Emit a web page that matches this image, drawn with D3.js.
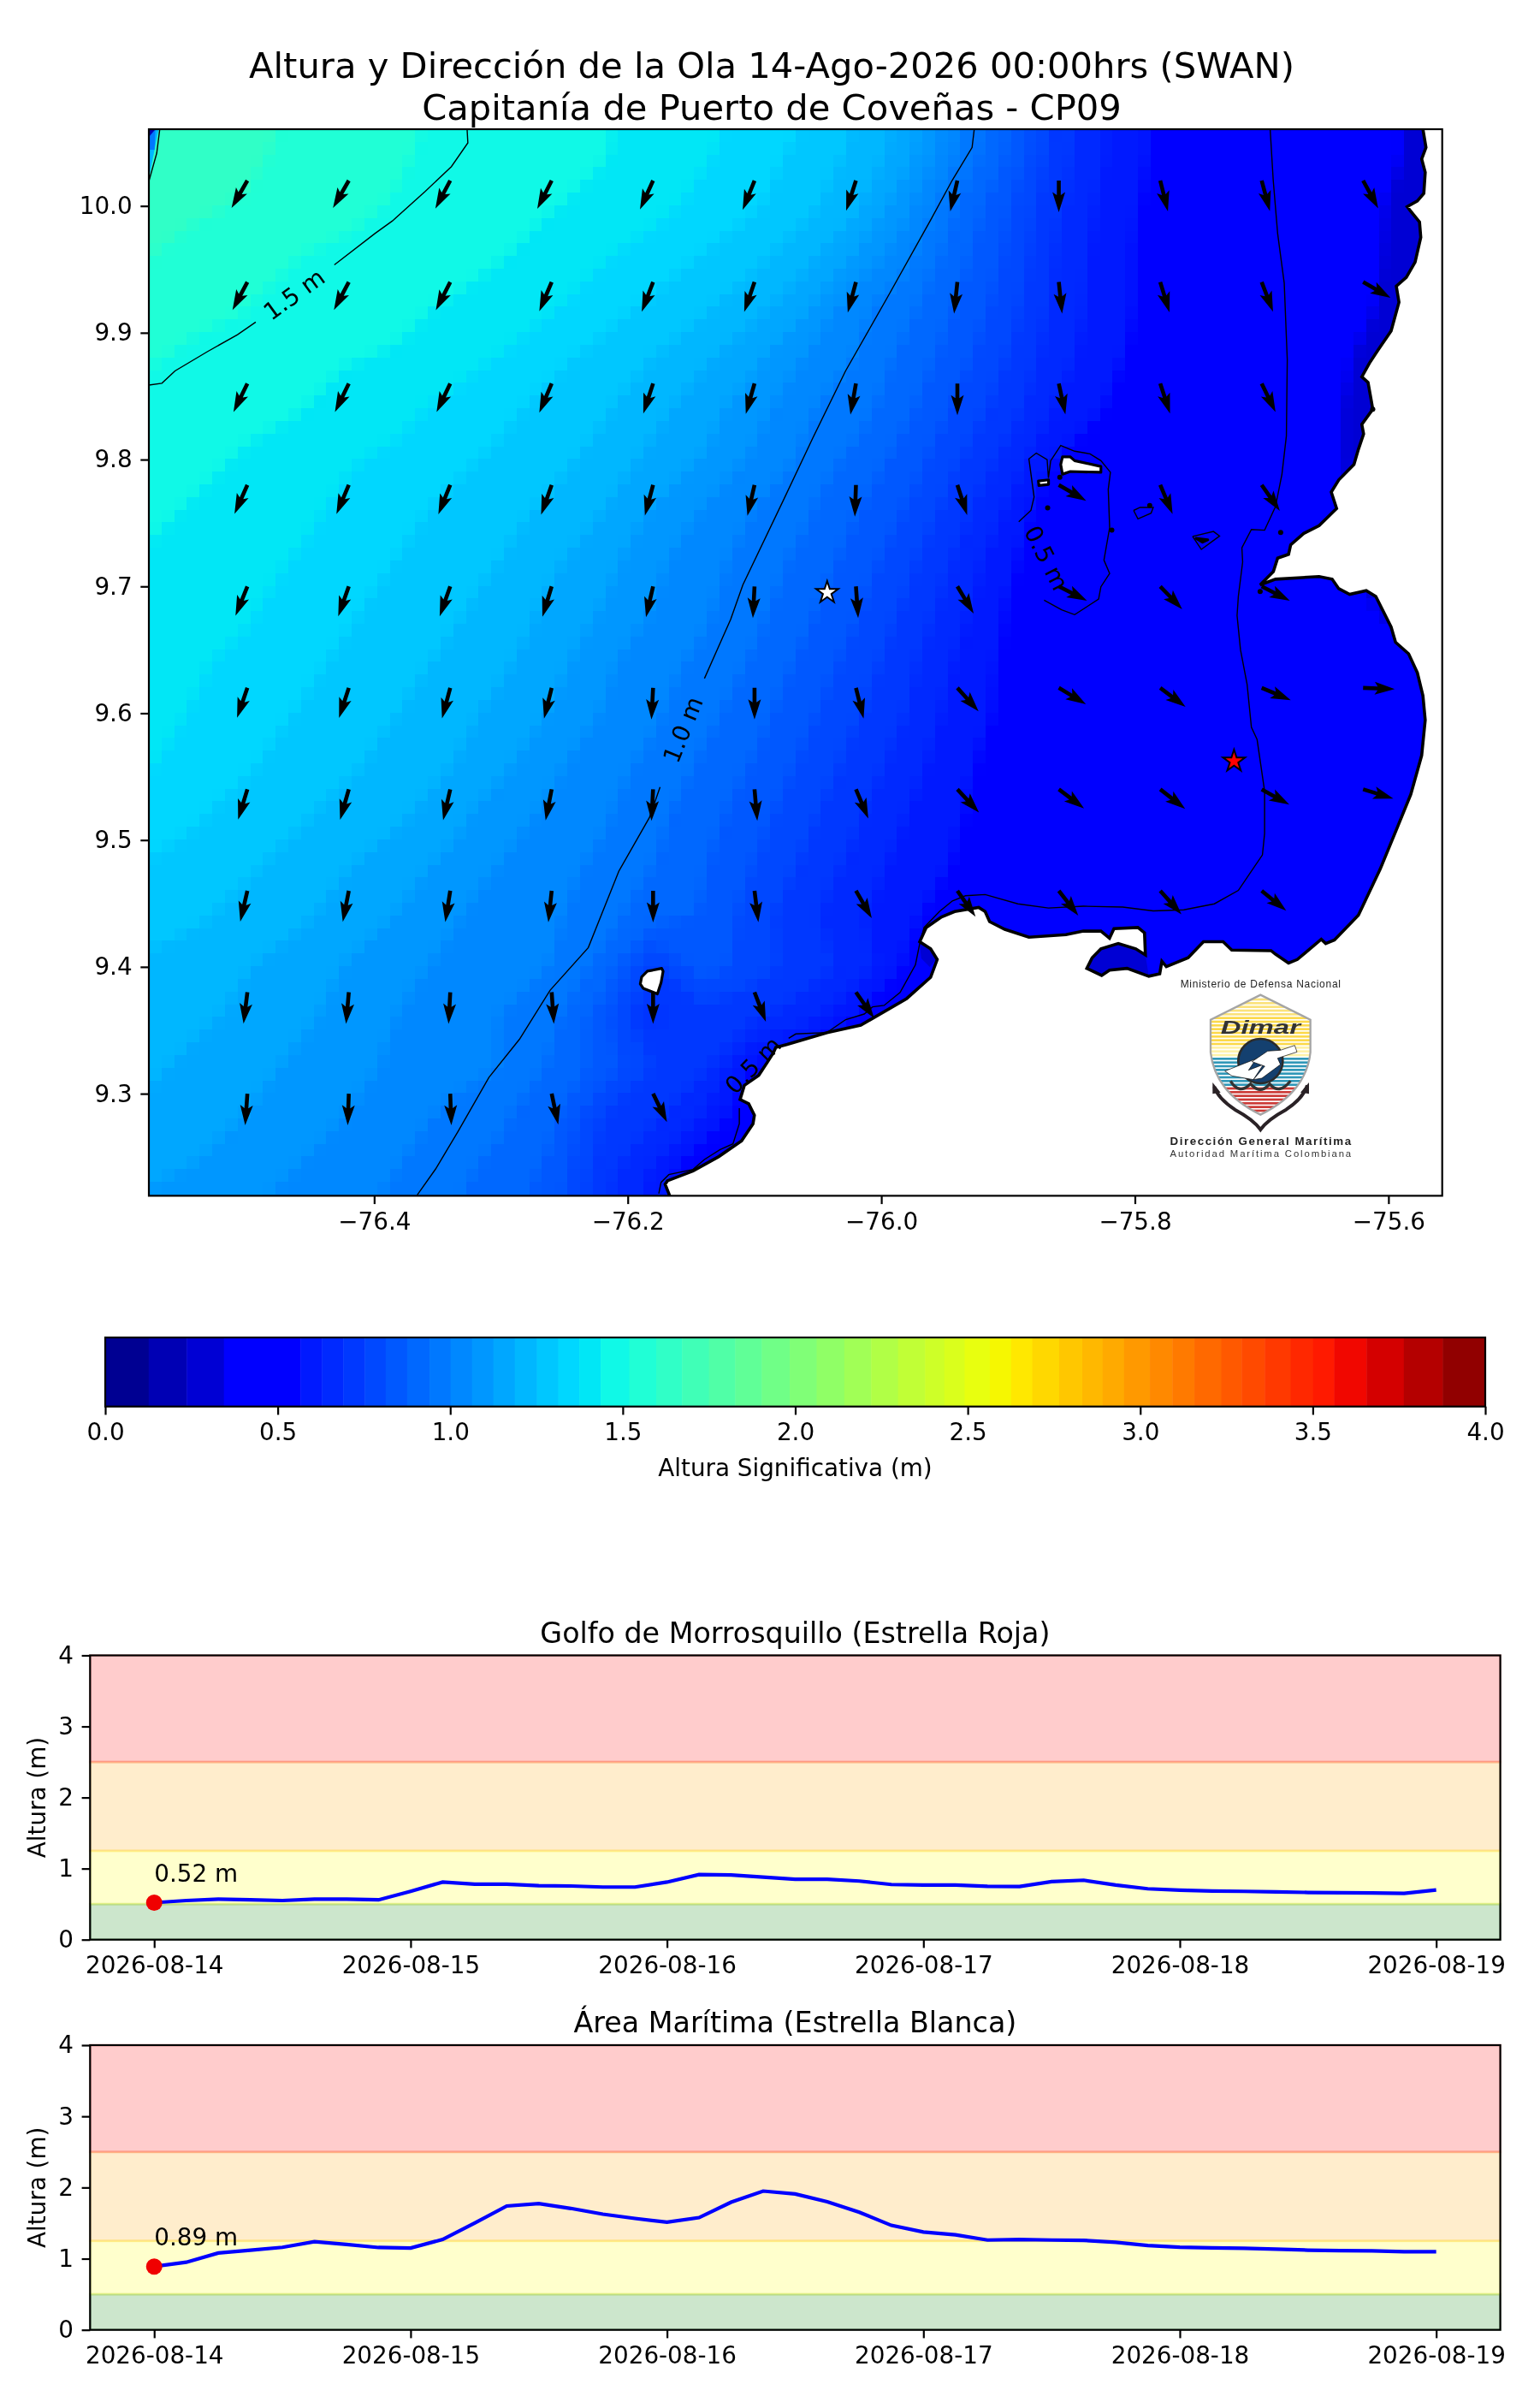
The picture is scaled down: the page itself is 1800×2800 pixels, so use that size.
<!DOCTYPE html>
<html>
<head>
<meta charset="utf-8">
<script src="https://cdn.jsdelivr.net/npm/d3@7"></script>
<style>
  body { margin: 0; background: #fff; }
  #chart { position: relative; width: 1800px; height: 2800px; }
  #field { position: absolute; left: 174px; top: 151px; }
  svg { position: absolute; left: 0; top: 0; }
  text { font-family: "DejaVu Sans", sans-serif; fill: #000; }
  .tick text { font-size: 27.8px; }
</style>
</head>
<body>
<div id="chart"><canvas id="field"></canvas></div>
<script>
const titleLines = ['Altura y Dirección de la Ola 14-Ago-2026 00:00hrs (SWAN)', 'Capitanía de Puerto de Coveñas - CP09'];
const lonTicks = [-76.4, -76.2, -76.0, -75.8, -75.6];
const latTicks = [10.0, 9.9, 9.8, 9.7, 9.6, 9.5, 9.4, 9.3];

const fieldLons = [-76.58, -76.54, -76.50, -76.46, -76.42, -76.38, -76.34, -76.30, -76.26, -76.22, -76.18, -76.14, -76.10, -76.06, -76.02, -75.98, -75.94, -75.90, -75.86, -75.82, -75.78, -75.74, -75.70, -75.66, -75.62, -75.58, -75.54];
const fieldLats = [10.08, 10.04, 10.00, 9.96, 9.92, 9.88, 9.84, 9.80, 9.76, 9.72, 9.68, 9.64, 9.60, 9.56, 9.52, 9.48, 9.44, 9.40, 9.36, 9.32, 9.28, 9.24, 9.20];
const fieldHeights = [
  [1.64,1.64,1.62,1.59,1.56,1.54,1.5,1.48,1.46,1.44,1.42,1.39,1.36,1.32,1.25,1.17,1.02,.88,.73,.62,.55,.52,.48,.45,.4,.33,.3],
  [1.63,1.63,1.61,1.58,1.55,1.53,1.49,1.47,1.45,1.44,1.41,1.38,1.35,1.29,1.24,1.15,1.0,.87,.72,.62,.55,.52,.48,.45,.4,.33,.3],
  [1.62,1.61,1.59,1.56,1.54,1.51,1.48,1.46,1.44,1.42,1.39,1.36,1.32,1.27,1.2,1.08,.94,.82,.70,.6,.54,.51,.48,.44,.38,.3,.3],
  [1.6,1.57,1.54,1.52,1.5,1.48,1.46,1.44,1.41,1.38,1.35,1.31,1.27,1.21,1.12,1.02,.9,.8,.68,.59,.54,.51,.47,.43,.37,.3,.3],
  [1.56,1.54,1.52,1.49,1.47,1.45,1.43,1.41,1.38,1.34,1.3,1.26,1.21,1.14,1.02,.96,.87,.78,.67,.59,.54,.51,.47,.42,.36,.3,.3],
  [1.53,1.5,1.48,1.46,1.44,1.43,1.4,1.37,1.33,1.29,1.25,1.2,1.14,1.06,1.0,.92,.84,.75,.65,.58,.53,.5,.46,.4,.33,.3,.3],
  [1.48,1.47,1.45,1.44,1.41,1.39,1.36,1.33,1.29,1.26,1.21,1.15,1.09,1.01,.97,.89,.8,.72,.62,.56,.52,.5,.45,.38,.32,.3,.3],
  [1.46,1.45,1.43,1.41,1.38,1.36,1.33,1.3,1.27,1.23,1.17,1.12,1.05,.99,.92,.85,.76,.67,.56,.52,.5,.49,.44,.38,.32,.3,.3],
  [1.45,1.43,1.41,1.39,1.36,1.33,1.3,1.27,1.24,1.19,1.12,1.06,1.0,.95,.88,.81,.72,.62,.5,.46,.47,.48,.44,.38,.33,.3,.3],
  [1.43,1.41,1.39,1.37,1.34,1.31,1.28,1.25,1.2,1.15,1.08,1.02,.98,.92,.85,.77,.68,.58,.5,.44,.46,.48,.45,.4,.34,.32,.32],
  [1.42,1.4,1.38,1.35,1.32,1.29,1.26,1.23,1.17,1.12,1.06,1.01,.96,.89,.82,.74,.65,.56,.48,.45,.47,.48,.46,.41,.35,.33,.33],
  [1.41,1.38,1.36,1.33,1.3,1.27,1.24,1.2,1.15,1.08,1.02,.99,.93,.86,.79,.71,.62,.55,.5,.48,.49,.49,.47,.43,.37,.35,.35],
  [1.39,1.37,1.34,1.31,1.28,1.25,1.21,1.17,1.12,1.06,1.01,.96,.9,.83,.76,.69,.6,.55,.51,.5,.5,.5,.49,.46,.42,.38,.38],
  [1.38,1.35,1.32,1.29,1.26,1.23,1.19,1.14,1.08,1.02,.99,.93,.87,.8,.73,.66,.58,.54,.52,.51,.51,.51,.5,.48,.46,.42,.42],
  [1.34,1.32,1.29,1.26,1.23,1.2,1.15,1.09,1.05,1.01,.96,.9,.84,.77,.7,.63,.57,.54,.53,.52,.52,.52,.51,.5,.49,.47,.47],
  [1.31,1.29,1.26,1.23,1.19,1.15,1.11,1.06,1.02,.99,.94,.88,.81,.74,.67,.6,.56,.54,.53,.52,.52,.51,.5,.5,.49,.48,.48],
  [1.28,1.26,1.23,1.2,1.16,1.12,1.07,1.04,1.01,.97,.9,.87,.78,.71,.64,.58,.53,.5,.52,.52,.52,.51,.5,.5,.49,.48,.48],
  [1.24,1.22,1.19,1.16,1.12,1.08,1.05,1.02,1.0,.92,.75,.85,.78,.72,.67,.56,.48,.45,.5,.5,.5,.48,.46,.46,.46,.46,.46],
  [1.22,1.2,1.17,1.14,1.1,1.06,1.03,1.0,.96,.84,.68,.72,.7,.66,.56,.48,.45,.45,.45,.45,.45,.45,.45,.45,.45,.45,.45],
  [1.2,1.17,1.15,1.11,1.08,1.05,1.02,1.0,.93,.85,.75,.7,.55,.5,.45,.45,.45,.45,.45,.45,.45,.45,.45,.45,.45,.45,.45],
  [1.17,1.15,1.12,1.09,1.06,1.02,.99,.95,.89,.75,.7,.62,.5,.45,.45,.45,.45,.45,.45,.45,.45,.45,.45,.45,.45,.45,.45],
  [1.14,1.12,1.1,1.06,1.03,1.0,.96,.92,.86,.72,.62,.5,.45,.45,.45,.45,.45,.45,.45,.45,.45,.45,.45,.45,.45,.45,.45],
  [1.1,1.08,1.06,1.03,1.01,.98,.94,.9,.84,.7,.6,.48,.45,.45,.45,.45,.45,.45,.45,.45,.45,.45,.45,.45,.45,.45,.45]
];

// colour band edges of the bar (m)
const bandEdges = [0, .126, .236, .344, .566, .628, .690, .752, .813, .875, .940, 1.001, 1.063, 1.125, 1.187, 1.251, 1.313, 1.374, 1.436, 1.519, 1.597, 1.672, 1.750, 1.826, 1.903, 1.984, 2.062, 2.142, 2.220, 2.298, 2.376, 2.432, 2.491, 2.564, 2.626, 2.687, 2.765, 2.832, 2.891, 2.953, 3.028, 3.093, 3.157, 3.235, 3.294, 3.361, 3.436, 3.501, 3.562, 3.656, 3.764, 3.877, 4];
const barTicks = [0, .5, 1, 1.5, 2, 2.5, 3, 3.5, 4];

// wave direction arrows: degrees away from south, positive towards east
const arrowLons = [-76.50, -76.42, -76.34, -76.26, -76.18, -76.10, -76.02, -75.94, -75.86, -75.78, -75.70, -75.62];
const arrowLats = [10.02, 9.94, 9.86, 9.78, 9.70, 9.62, 9.54, 9.46, 9.38, 9.30];
const arrowAngles = [
  [-30, -30, -28, -27, -24.5, -22, -18, -13, 0, 14, 15, 28.5],
  [-28, -28, -27, -23, -21, -19, -15, -6, 6, 17, 21, 60],
  [-26, -26, -25.5, -23, -18, -16, -10, 0, 12, 18, 26, null],
  [-24, -23, -22, -19.5, -15, -13, -2, 18, 60, 23, 35, null],
  [-22, -19.5, -19.5, -17, -13, -3, 4, 31, 63, 44, 63, null],
  [-19, -18, -15, -14, -3, 0, 14, 42, 59, 53, 67, 88],
  [-17, -16, -13, -11, -3, 5, 23, 43, 53, 52, 61, 73],
  [-13, -11, -9, -6, 0, 7, 30, 35, 38, 42, 51, null],
  [-7, -5, -3, 4, 0, 21, 35, null, null, null, null, null],
  [-4, -2, 2, 12, 26, null, null, null, null, null, null, null]
];

const contour15 = [
  [[-76.5777, 9.8587], [-76.5674, 9.8602], [-76.5571, 9.8699], [-76.5319, 9.8849], [-76.5078, 9.8985], [-76.4934, 9.9084]],
  [[-76.4314, 9.9536], [-76.3994, 9.9783], [-76.3856, 9.9882], [-76.3598, 10.0114], [-76.3391, 10.031], [-76.3261, 10.0497], [-76.3267, 10.0605]],
  [[-76.5691, 10.0605], [-76.5715, 10.0416], [-76.5774, 10.0205]]
];
const contour10 = [
  [[-75.9267, 10.0605], [-75.9284, 10.0461], [-75.9439, 10.0205], [-75.9611, 9.9889], [-75.9948, 9.9286], [-76.0282, 9.8699], [-76.0540, 9.8171], [-76.0775, 9.7674], [-76.1092, 9.7012], [-76.1188, 9.6741], [-76.1395, 9.6274]],
  [[-76.1745, 9.5418], [-76.1829, 9.5177], [-76.2070, 9.4755], [-76.2311, 9.4152], [-76.2613, 9.3815], [-76.2854, 9.3429], [-76.3095, 9.3128], [-76.3336, 9.2706], [-76.3516, 9.2405], [-76.3661, 9.22]]
];
const contour05 = [
  [[-75.6933, 10.0605], [-75.6909, 10.0205], [-75.6874, 9.9783], [-75.6822, 9.9391], [-75.6798, 9.8789], [-75.6805, 9.8187], [-75.6840, 9.7885], [-75.6891, 9.7629], [-75.6977, 9.7443], [-75.7081, 9.7449], [-75.7156, 9.7304], [-75.7150, 9.7192], [-75.7184, 9.6921], [-75.7194, 9.6771], [-75.7167, 9.6500], [-75.7115, 9.6229], [-75.7081, 9.5890], [-75.7036, 9.5792], [-75.6977, 9.5387], [-75.6977, 9.5051], [-75.6994, 9.4883], [-75.7184, 9.4603], [-75.7373, 9.4497], [-75.7614, 9.4450], [-75.7855, 9.4441], [-75.8096, 9.4472], [-75.8406, 9.4478], [-75.8682, 9.4464], [-75.8923, 9.4497], [-75.9181, 9.4570], [-75.9336, 9.4561], [-75.9439, 9.4520], [-75.9542, 9.4436], [-75.9663, 9.4310], [-75.9697, 9.4184], [-75.9731, 9.4016], [-75.9852, 9.3798], [-75.9978, 9.3696], [-76.0068, 9.3685], [-76.0135, 9.3628], [-76.0281, 9.3584], [-76.0428, 9.3482], [-76.0675, 9.3471], [-76.0731, 9.3437]],
  [[-76.1120, 9.2886], [-76.1120, 9.2763], [-76.1170, 9.2605], [-76.1271, 9.2560], [-76.1395, 9.2481], [-76.1485, 9.2403], [-76.1676, 9.2362], [-76.1737, 9.2301], [-76.1755, 9.2212]],
  [[-75.8716, 9.6891], [-75.8578, 9.6816], [-75.8475, 9.6777], [-75.8286, 9.6900], [-75.8268, 9.6997], [-75.8199, 9.7102], [-75.8244, 9.7207], [-75.8199, 9.7464], [-75.8210, 9.7765], [-75.8193, 9.7900], [-75.8268, 9.7991], [-75.8354, 9.8045], [-75.8475, 9.8066], [-75.8585, 9.8111], [-75.8664, 9.7991], [-75.8682, 9.7855], [-75.8692, 9.8000], [-75.8778, 9.8051], [-75.8836, 9.8006], [-75.8795, 9.7705], [-75.8820, 9.7599], [-75.8916, 9.7509]],
  [[-75.8010, 9.7599], [-75.7976, 9.7533], [-75.7872, 9.7578], [-75.7855, 9.7623], [-75.7959, 9.7623], [-75.8010, 9.7599]],
  [[-75.7545, 9.7394], [-75.7380, 9.7433], [-75.7332, 9.7397], [-75.7476, 9.7292], [-75.7545, 9.7394]]
];
const contourLabels = [
  { text: '1.5 m', lon: -76.4631, lat: 9.9301, angle: -36 },
  { text: '1.0 m', lon: -76.1564, lat: 9.5870, angle: -68 },
  { text: '0.5 m', lon: -75.8699, lat: 9.7223, angle: 63 },
  { text: '0.5 m', lon: -76.1012, lat: 9.3224, angle: -46 }
];

const coastline = [[-75.5728, 10.0605], [-75.5704, 10.0461], [-75.5738, 10.0370], [-75.5710, 10.0265], [-75.5721, 10.0099], [-75.5772, 10.0039], [-75.5852, 9.9994], [-75.5824, 9.9958], [-75.5755, 9.9873], [-75.5745, 9.9753], [-75.5790, 9.9557], [-75.5859, 9.9437], [-75.5938, 9.9367], [-75.5917, 9.9241], [-75.5979, 9.9015], [-75.6082, 9.8864], [-75.6151, 9.8759], [-75.6210, 9.8653], [-75.6161, 9.8608], [-75.6134, 9.8458], [-75.6124, 9.8397], [-75.6210, 9.8277], [-75.6196, 9.8202], [-75.6237, 9.8081], [-75.6272, 9.7961], [-75.6392, 9.7840], [-75.6451, 9.7744], [-75.6409, 9.7614], [-75.6547, 9.7479], [-75.6668, 9.7418], [-75.6771, 9.7328], [-75.6788, 9.7253], [-75.6874, 9.7223], [-75.6908, 9.7117], [-75.7012, 9.7012], [-75.6891, 9.7057], [-75.6547, 9.7078], [-75.6444, 9.7057], [-75.6392, 9.6982], [-75.6306, 9.6937], [-75.6175, 9.6967], [-75.6100, 9.6921], [-75.5979, 9.6680], [-75.5944, 9.6560], [-75.5841, 9.6469], [-75.5772, 9.6319], [-75.5728, 9.6138], [-75.5710, 9.5946], [-75.5738, 9.5667], [-75.5824, 9.5359], [-75.5927, 9.5107], [-75.6065, 9.4771], [-75.6237, 9.4408], [-75.6426, 9.4212], [-75.6495, 9.4184], [-75.6530, 9.4217], [-75.6719, 9.4058], [-75.6788, 9.4030], [-75.6891, 9.4100], [-75.6926, 9.4128], [-75.7236, 9.4133], [-75.7304, 9.4198], [-75.7459, 9.4198], [-75.7580, 9.4072], [-75.7752, 9.4002], [-75.7787, 9.4044], [-75.7804, 9.3946], [-75.7890, 9.3926], [-75.8062, 9.3988], [-75.8200, 9.3974], [-75.8262, 9.3932], [-75.8379, 9.3988], [-75.8337, 9.4072], [-75.8268, 9.4142], [-75.8131, 9.4184], [-75.7993, 9.4142], [-75.7917, 9.4094], [-75.7924, 9.4268], [-75.7976, 9.4310], [-75.8165, 9.4301], [-75.8200, 9.4226], [-75.8268, 9.4282], [-75.8406, 9.4282], [-75.8544, 9.4254], [-75.8836, 9.4234], [-75.9026, 9.4296], [-75.9146, 9.4357], [-75.9181, 9.4436], [-75.9232, 9.4469], [-75.9422, 9.4436], [-75.9525, 9.4394], [-75.9646, 9.4310], [-75.9697, 9.4198], [-75.9611, 9.4142], [-75.9559, 9.4058], [-75.9611, 9.3918], [-75.9800, 9.3750], [-76.0162, 9.3540], [-76.0428, 9.3482], [-76.0742, 9.3388], [-76.0832, 9.3365], [-76.0850, 9.3325], [-76.0900, 9.3246], [-76.0967, 9.3145], [-76.1080, 9.3066], [-76.1114, 9.2954], [-76.1046, 9.2920], [-76.1001, 9.2830], [-76.1012, 9.2763], [-76.1102, 9.2628], [-76.1282, 9.2504], [-76.1485, 9.2391], [-76.1687, 9.2313], [-76.1705, 9.2286], [-76.1669, 9.2195]];
const landCorners = [[-75.5576, 9.2195], [-75.5576, 10.0605]];
const islands = [
  [[-76.1890, 9.3921], [-76.1845, 9.3966], [-76.1732, 9.3988], [-76.1721, 9.3966], [-76.1737, 9.3876], [-76.1766, 9.3786], [-76.1878, 9.3831], [-76.1901, 9.3865]],
  [[-75.8571, 9.8021], [-75.8509, 9.8021], [-75.8475, 9.7991], [-75.8268, 9.7946], [-75.8268, 9.7900], [-75.8509, 9.7906], [-75.8571, 9.7885], [-75.8585, 9.7961]],
  [[-75.8761, 9.7831], [-75.8681, 9.7840], [-75.8681, 9.7804], [-75.8757, 9.7795]],
  [[-75.7518, 9.7379], [-75.7466, 9.7349], [-75.7425, 9.7367]]
];
const islets = [[-75.8592, 9.7861], [-75.8688, 9.7620], [-75.8182, 9.7443], [-75.6850, 9.7425], [-75.7883, 9.7638], [-75.6124, 9.8397], [-75.7012, 9.6960]];

// small water patches that are finer than the height table
const waterPatches = [
  { height: 1.25, ring: [[-76.5777, 10.0605], [-76.5700, 10.0605], [-76.5770, 10.0250]] },
  { height: 1.0, ring: [[-76.5777, 10.0605], [-76.5725, 10.0605], [-76.5732, 10.0443], [-76.5777, 10.0443]] },
  { height: 0.2, ring: [[-76.5777, 10.0605], [-76.5725, 10.0605], [-76.5777, 10.0545]] },
  { height: 0.3, ring: [[-75.8379, 9.3988], [-75.8337, 9.4072], [-75.8268, 9.4142], [-75.8131, 9.4184], [-75.7993, 9.4142], [-75.7917, 9.4094], [-75.7890, 9.3926], [-75.8062, 9.3988], [-75.8200, 9.3974], [-75.8262, 9.3932]] },
  { height: 0.3, ring: [[-75.9697, 9.4180], [-75.9618, 9.4180], [-75.9562, 9.4067], [-75.9618, 9.4000], [-75.9685, 9.4067]] }
];
const stations = [
  { name: 'Estrella Blanca', lon: -76.0427, lat: 9.6951, color: '#ffffff' },
  { name: 'Estrella Roja', lon: -75.7218, lat: 9.5622, color: '#ff0000' }
];

// 3-hourly forecast series, 2026-08-14 00:00 to 2026-08-19 00:00
const golfoSeries = [.52, .55, .57, .56, .55, .57, .57, .56, .68, .81, .78, .78, .76, .755, .74, .74, .81, .915, .91, .88, .85, .85, .824, .776, .768, .768, .75, .748, .816, .836, .768, .716, .696, .684, .68, .672, .664, .66, .656, .652, .70];
const maritimaSeries = [.89, .95, 1.08, 1.12, 1.16, 1.24, 1.20, 1.157, 1.15, 1.27, 1.50, 1.74, 1.774, 1.706, 1.625, 1.565, 1.512, 1.577, 1.794, 1.95, 1.91, 1.80, 1.653, 1.468, 1.375, 1.335, 1.262, 1.27, 1.262, 1.258, 1.23, 1.185, 1.16, 1.153, 1.145, 1.133, 1.12, 1.113, 1.11, 1.097, 1.097];
const alertBands = [
  { from: 0, to: .5, color: 'green' },
  { from: .5, to: 1.25, color: 'yellow' },
  { from: 1.25, to: 2.5, color: 'orange' },
  { from: 2.5, to: 4, color: 'red' }
];
const heightTicks = [0, 1, 2, 3, 4];

// layout (px)
const map = { left: 174, right: 1685.7, top: 151, bottom: 1397.4 };
const bar = { left: 123, right: 1736, top: 1563, bottom: 1643.7 };
const panels = [
  { title: 'Golfo de Morrosquillo (Estrella Roja)', values: golfoSeries, top: 1934.5, bottom: 2266.7 },
  { title: 'Área Marítima (Estrella Blanca)', values: maritimaSeries, top: 2390, bottom: 2722.7 }
];
const panelLeft = 105.3, panelRight = 1753.6;
const spine = 2.2, tickLen = 9.7;

// jet colormap
const jetR = d3.scaleLinear().domain([0, .35, .66, .89, 1]).range([0, 0, 1, 1, .5]);
const jetG = d3.scaleLinear().domain([0, .125, .375, .64, .91, 1]).range([0, 0, 1, 1, 0, 0]);
const jetB = d3.scaleLinear().domain([0, .11, .34, .65, 1]).range([.5, 1, 1, 0, 0]);
const bandColors = d3.pairs(bandEdges).map(([a, b]) => {
  const t = (a + b) / 8;
  return d3.rgb(jetR(t) * 255, jetG(t) * 255, jetB(t) * 255).formatHex();
});
const colorOf = d3.scaleThreshold().domain(bandEdges.slice(1, -1)).range(bandColors);

const x = d3.scaleLinear().domain([-76.5777, -75.5576]).range([map.left, map.right]);
const y = d3.scaleLinear().domain([10.0605, 9.2195]).range([map.top, map.bottom]);
const lineGeo = d3.line().x(d => x(d[0])).y(d => y(d[1]));

const svg = d3.select('#chart').append('svg').attr('width', 1800).attr('height', 2800);

function styleAxis(g) {
  g.select('.domain').remove();
  g.selectAll('.tick line').attr('stroke', '#000').attr('stroke-width', spine);
  g.selectAll('.tick text').attr('fill', '#000');
}

// ---- wave height field: contours rasterised on the model mesh so it keeps its steps
function drawField() {
  const cell = 14.82;
  const w = map.right - map.left, h = map.bottom - map.top;
  const nx = Math.ceil(w / cell), ny = Math.ceil(h / cell);
  const low = document.createElement('canvas');
  low.width = nx; low.height = ny;
  const lc = low.getContext('2d');

  const gridLon = d3.scaleLinear().domain([.5, fieldLons.length - .5]).range([fieldLons[0], fieldLons[fieldLons.length - 1]]);
  const gridLat = d3.scaleLinear().domain([.5, fieldLats.length - .5]).range([fieldLats[0], fieldLats[fieldLats.length - 1]]);
  const toMesh = d3.geoTransform({
    point(gx, gy) {
      this.stream.point((x(gridLon(gx)) - map.left) / cell, (y(gridLat(gy)) - map.top) / cell);
    }
  });
  const path = d3.geoPath(toMesh, lc);
  const contours = d3.contours().size([fieldLons.length, fieldLats.length]).thresholds(bandEdges.slice(0, -1));

  lc.fillStyle = bandColors[0];
  lc.fillRect(0, 0, nx, ny);
  contours(fieldHeights.flat()).forEach((c, i) => {
    lc.beginPath();
    path(c);
    lc.fillStyle = bandColors[i];
    lc.fill();
  });

  const canvas = document.getElementById('field');
  canvas.width = Math.round(w); canvas.height = Math.round(h);
  const ctx = canvas.getContext('2d');
  ctx.imageSmoothingEnabled = false;
  ctx.drawImage(low, 0, 0, nx * cell, ny * cell);
}
drawField();

// ---- map overlay
const mapG = svg.append('g');
svg.append('clipPath').attr('id', 'map-clip').append('rect')
  .attr('x', map.left).attr('y', map.top).attr('width', map.right - map.left).attr('height', map.bottom - map.top);
mapG.attr('clip-path', 'url(#map-clip)');

mapG.selectAll('.patch').data(waterPatches).join('path').attr('class', 'patch')
  .attr('d', d => lineGeo(d.ring) + 'Z')
  .attr('fill', d => colorOf(d.height));

mapG.append('path').attr('d', lineGeo(coastline.concat(landCorners)) + 'Z').attr('fill', '#fff');
mapG.append('path').attr('d', lineGeo(coastline)).attr('fill', 'none').attr('stroke', '#000').attr('stroke-width', 3.6);

mapG.selectAll('.island').data(islands).join('path').attr('class', 'island')
  .attr('d', d => lineGeo(d) + 'Z')
  .attr('fill', '#fff').attr('stroke', '#000').attr('stroke-width', 3.2).attr('stroke-linejoin', 'round');
mapG.selectAll('.islet').data(islets).join('circle').attr('class', 'islet')
  .attr('cx', d => x(d[0])).attr('cy', d => y(d[1])).attr('r', 3).attr('fill', '#000');

[contour15, contour10, contour05].forEach(lines => {
  mapG.append('g').selectAll('path').data(lines).join('path')
    .attr('d', lineGeo).attr('fill', 'none').attr('stroke', '#000').attr('stroke-width', 1.4);
});
mapG.selectAll('.clabel').data(contourLabels).join('text').attr('class', 'clabel')
  .attr('transform', d => `translate(${x(d.lon)},${y(d.lat)}) rotate(${d.angle})`)
  .attr('text-anchor', 'middle').attr('dominant-baseline', 'central')
  .attr('font-size', 27.8).text(d => d.text);

// quiver
const arrowShape = 'M-2.3,0L2.3,0L2.3,17L7.5,13.5L0,37L-7.5,13.5L-2.3,17Z';
arrowLats.forEach((lat, r) => {
  mapG.append('g').selectAll('path')
    .data(arrowLons.map((lon, c) => ({ lon, lat, angle: arrowAngles[r][c] })).filter(d => d.angle !== null))
    .join('path')
    .attr('d', arrowShape)
    .attr('fill', '#000')
    .attr('transform', d => `translate(${x(d.lon)},${y(d.lat)}) rotate(${-d.angle})`);
});

mapG.selectAll('.station').data(stations).join('path').attr('class', 'station')
  .attr('d', d3.symbol(d3.symbolStar, 204))
  .attr('transform', d => `translate(${x(d.lon)},${y(d.lat)})`)
  .attr('fill', d => d.color).attr('stroke', '#000').attr('stroke-width', 2);

drawLogo();

svg.append('rect').attr('x', map.left).attr('y', map.top)
  .attr('width', map.right - map.left).attr('height', map.bottom - map.top)
  .attr('fill', 'none').attr('stroke', '#000').attr('stroke-width', spine);
svg.append('g').attr('transform', `translate(0,${map.bottom})`)
  .call(d3.axisBottom(x).tickValues(lonTicks).tickFormat(d3.format('.1f')).tickSize(tickLen).tickPadding(9.7))
  .call(styleAxis);
svg.append('g').attr('transform', `translate(${map.left},0)`)
  .call(d3.axisLeft(y).tickValues(latTicks).tickFormat(d3.format('.1f')).tickSize(tickLen).tickPadding(9.7))
  .call(styleAxis);

svg.selectAll('.title').data(titleLines).join('text').attr('class', 'title')
  .attr('x', 902).attr('y', (d, i) => 91 + i * 49)
  .attr('text-anchor', 'middle').attr('font-size', 41.67).text(d => d);

// ---- colour bar
const barX = d3.scaleLinear().domain([0, 4]).range([bar.left, bar.right]);
svg.append('g').selectAll('rect').data(d3.pairs(bandEdges)).join('rect')
  .attr('x', d => barX(d[0])).attr('y', bar.top)
  .attr('width', d => barX(d[1]) - barX(d[0]) + .5).attr('height', bar.bottom - bar.top)
  .attr('fill', (d, i) => bandColors[i]);
svg.append('rect').attr('x', bar.left).attr('y', bar.top)
  .attr('width', bar.right - bar.left).attr('height', bar.bottom - bar.top)
  .attr('fill', 'none').attr('stroke', '#000').attr('stroke-width', spine);
svg.append('g').attr('transform', `translate(0,${bar.bottom})`)
  .call(d3.axisBottom(barX).tickValues(barTicks).tickFormat(d3.format('.1f')).tickSize(tickLen).tickPadding(9.7))
  .call(styleAxis);
svg.append('text').attr('x', (bar.left + bar.right) / 2).attr('y', 1725)
  .attr('text-anchor', 'middle').attr('font-size', 27.8).text('Altura Significativa (m)');

// ---- time series panels
const times = d3.utcHour.range(new Date(Date.UTC(2026, 7, 14)), new Date(Date.UTC(2026, 7, 19, 1)), 3);
panels.forEach(p => {
  const tx = d3.scaleUtc()
    .domain([new Date(Date.UTC(2026, 7, 13, 18)), new Date(Date.UTC(2026, 7, 19, 6))])
    .range([panelLeft, panelRight]);
  const hy = d3.scaleLinear().domain([0, 4]).range([p.bottom, p.top]);
  const g = svg.append('g');

  g.selectAll('.band').data(alertBands).join('rect').attr('class', 'band')
    .attr('x', panelLeft).attr('width', panelRight - panelLeft)
    .attr('y', d => hy(d.to)).attr('height', d => hy(d.from) - hy(d.to))
    .attr('fill', d => d.color).attr('fill-opacity', .2)
    .attr('stroke', d => d.color).attr('stroke-opacity', .2).attr('stroke-width', 2.8);

  g.append('path').datum(p.values)
    .attr('d', d3.line().x((d, i) => tx(times[i])).y(d => hy(d)))
    .attr('fill', 'none').attr('stroke', '#0000ff').attr('stroke-width', 4.2);
  g.append('circle').attr('cx', tx(times[0])).attr('cy', hy(p.values[0])).attr('r', 9.5).attr('fill', '#f00000');
  g.append('text').attr('x', tx(times[0])).attr('y', hy(p.values[0] + .3))
    .attr('font-size', 27.8).text(`${p.values[0].toFixed(2)} m`);

  g.append('rect').attr('x', panelLeft).attr('y', p.top)
    .attr('width', panelRight - panelLeft).attr('height', p.bottom - p.top)
    .attr('fill', 'none').attr('stroke', '#000').attr('stroke-width', spine);
  g.append('g').attr('transform', `translate(0,${p.bottom})`)
    .call(d3.axisBottom(tx).ticks(d3.utcDay.every(1)).tickFormat(d3.utcFormat('%Y-%m-%d')).tickSize(tickLen).tickPadding(9.7))
    .call(styleAxis);
  g.append('g').attr('transform', `translate(${panelLeft},0)`)
    .call(d3.axisLeft(hy).tickValues(heightTicks).tickFormat(d3.format('d')).tickSize(tickLen).tickPadding(9.7))
    .call(styleAxis);
  g.append('text').attr('transform', `translate(53,${(p.top + p.bottom) / 2}) rotate(-90)`)
    .attr('text-anchor', 'middle').attr('font-size', 27.8).text('Altura (m)');
  g.append('text').attr('x', (panelLeft + panelRight) / 2).attr('y', p.top - 15)
    .attr('text-anchor', 'middle').attr('font-size', 33.3).text(p.title);
});

// ---- institution logo, drawn in units of 1/3 px
function drawLogo() {
  const logo = mapG.append('g').attr('transform', 'translate(1300,1120) scale(0.3333)');
  const shield = 'M520,128L695,215L695,330Q680,470 520,548Q360,470 345,330L345,215Z';
  const stripes = d3.range(140, 545, 13);

  svg.append('clipPath').attr('id', 'shield-clip').append('path').attr('d', shield);
  logo.append('path').attr('d', shield).attr('fill', '#fff');
  logo.append('g').attr('clip-path', 'url(#shield-clip)').selectAll('rect').data(stripes).join('rect')
    .attr('x', 345).attr('y', d => d).attr('width', 350).attr('height', 8)
    .attr('fill', d => d < 205 ? '#fbe27a' : d < 300 ? '#fcd94a' : d < 340 ? '#fff2a8' : d < 440 ? '#2f97b8' : '#cc3a36');
  logo.append('path').attr('d', shield).attr('fill', 'none').attr('stroke', '#a5a5a5').attr('stroke-width', 7);

  logo.append('text').attr('x', 520).attr('y', 265).attr('text-anchor', 'middle')
    .attr('font-family', '"Liberation Sans"').attr('font-size', 66).attr('font-weight', 'bold').attr('font-style', 'italic')
    .attr('textLength', 280).attr('lengthAdjust', 'spacingAndGlyphs').style('font-family', '"Liberation Sans"').style('fill', '#333').text('Dimar');

  logo.append('circle').attr('cx', 520).attr('cy', 360).attr('r', 78).attr('fill', '#14406f').attr('stroke', '#2b2b2b').attr('stroke-width', 8);
  logo.append('path').attr('d', 'M395,395L505,352L478,392L530,372L495,425L420,412Z').attr('fill', '#fff').attr('stroke', '#000').attr('stroke-width', 2);
  logo.append('path').attr('d', 'M640,305L648,328L580,350L590,372L525,420L495,425L535,378L490,362L545,325L590,322Z').attr('fill', '#fff').attr('stroke', '#000').attr('stroke-width', 2);
  logo.append('path').attr('d', 'M415,430Q445,480 485,440Q520,480 552,440Q585,480 625,430')
    .attr('fill', 'none').attr('stroke', '#333').attr('stroke-width', 10);
  logo.append('path').attr('d', 'M358,450Q370,490 430,530Q495,565 520,600Q545,565 610,530Q670,490 684,445')
    .attr('fill', 'none').attr('stroke', '#2a2226').attr('stroke-width', 12);
  logo.append('path').attr('d', 'M352,475L352,435L380,470Z').attr('fill', '#2a2226');
  logo.append('path').attr('d', 'M690,475L690,435L660,470Z').attr('fill', '#2a2226');

  logo.append('text').attr('x', 520).attr('y', 101).attr('text-anchor', 'middle')
    .style('font-family', '"Liberation Sans"').attr('font-size', 36).attr('textLength', 562)
    .style('fill', '#222').text('Ministerio de Defensa Nacional');
  logo.append('text').attr('x', 520).attr('y', 654).attr('text-anchor', 'middle')
    .style('font-family', '"Liberation Sans"').attr('font-size', 40).attr('font-weight', 'bold').attr('textLength', 635)
    .style('fill', '#222').text('Dirección General Marítima');
  logo.append('text').attr('x', 520).attr('y', 695).attr('text-anchor', 'middle')
    .style('font-family', '"Liberation Sans"').attr('font-size', 34).attr('textLength', 635)
    .style('fill', '#333').text('Autoridad Marítima Colombiana');
}
</script>
</body>
</html>
